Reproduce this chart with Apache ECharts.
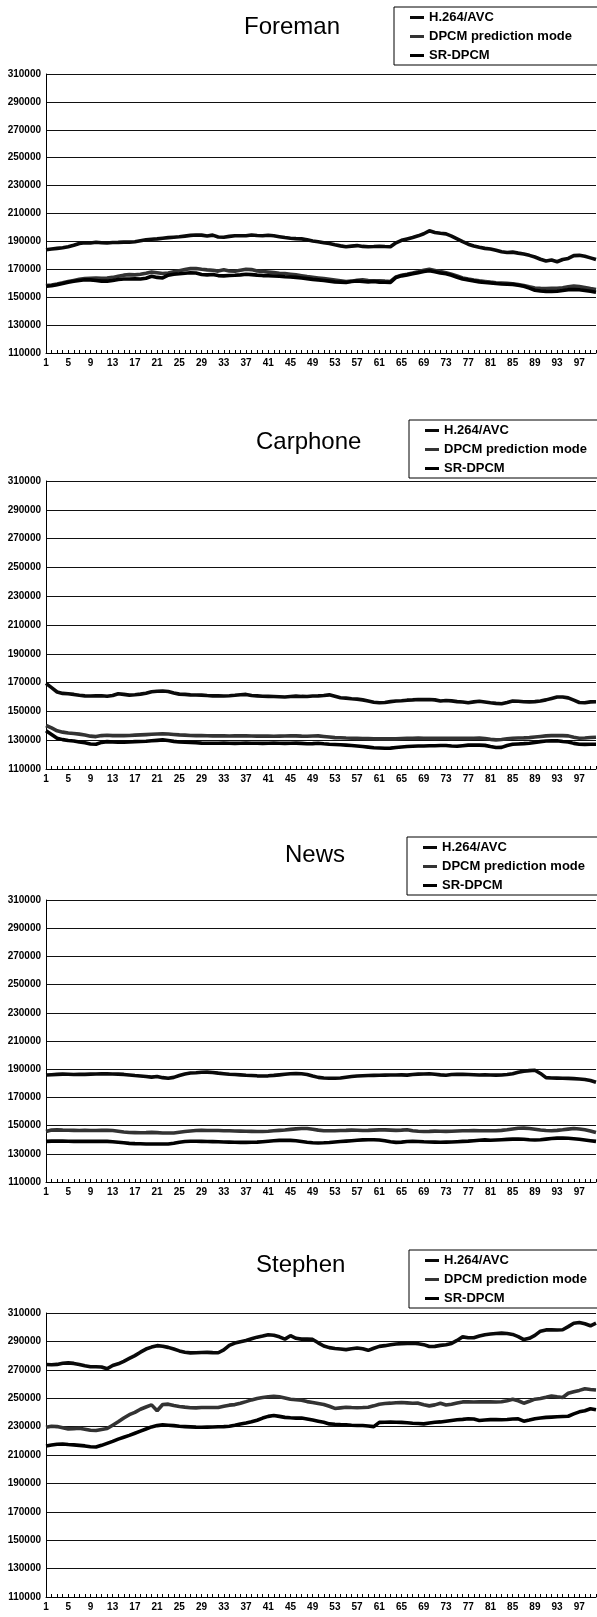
<!DOCTYPE html>
<html>
<head>
<meta charset="utf-8">
<script src="https://cdn.jsdelivr.net/npm/echarts@6/dist/echarts.min.js"></script>
<style>
html,body{margin:0;padding:0;background:#fff;}
#chart{width:597px;height:1617px;}
</style>
</head>
<body>
<div id="chart"></div>
<script>
const FRAMES = ['1','2','3','4','5','6','7','8','9','10','11','12','13','14','15','16','17','18','19','20','21','22','23','24','25','26','27','28','29','30','31','32','33','34','35','36','37','38','39','40','41','42','43','44','45','46','47','48','49','50','51','52','53','54','55','56','57','58','59','60','61','62','63','64','65','66','67','68','69','70','71','72','73','74','75','76','77','78','79','80','81','82','83','84','85','86','87','88','89','90','91','92','93','94','95','96','97','98','99','100'];
const SERIES_NAMES = ['H.264/AVC', 'DPCM prediction mode', 'SR-DPCM'];
const PANEL_TITLES = ['Foreman', 'Carphone', 'News', 'Stephen'];
const Y_MIN = 110000, Y_MAX = 310000, Y_LABEL_STEP = 20000;

const foremanH264 = [184000,184500,185000,185500,186200,187200,188500,189000,188800,189400,
189000,188800,189200,189300,189500,189500,189800,190500,191200,191500,
191800,192300,192700,193000,193300,193800,194300,194600,194500,193800,
194500,193200,193000,193600,194000,194100,194000,194600,194200,194000,
194400,194000,193400,192800,192300,192000,191800,191200,190300,189800,
189000,188500,187600,186800,186200,186600,187000,186400,186200,186300,
186500,186300,186200,189000,190800,191800,192800,194000,195500,197600,
196400,195800,195400,193800,191800,189800,188000,186700,185800,185000,
184500,183600,182600,182000,182300,181600,181000,180000,178800,177200,
176000,176600,175400,177000,177800,179800,180000,179300,178200,177000];
const foremanDPCM = [158300,158800,159500,160300,161200,162000,162800,163400,163600,163700,
163600,163700,164200,165000,165800,166200,166000,166500,167200,168000,
167500,167000,167400,168200,169000,169800,170500,170600,170000,169600,
169300,168700,169600,168800,168600,169300,170000,169800,168800,168400,
168000,167600,167200,167000,166500,166000,165400,164800,164300,163800,
163300,162800,162300,161800,161300,161500,162200,162500,162000,161800,
161800,161500,161300,164500,165800,166500,167300,168200,169300,170000,
169200,168400,167600,166400,165200,163800,163000,162300,161700,161300,
160800,160400,160200,159900,159600,159000,158300,157400,156600,156300,
156200,156300,156400,156800,157500,158000,157600,157000,156200,155500];
const foremanSR = [157800,158200,159000,159800,160700,161400,162000,162500,162400,162000,
161500,161500,162000,162700,163000,163000,163200,163000,163600,165000,
164200,163800,165800,166500,166800,167200,167500,167300,166300,166000,
166300,165500,165300,165600,165700,166000,166500,166200,165800,165500,
165400,165200,165000,164700,164500,164200,163800,163300,162800,162400,
162000,161500,161000,160800,160600,161300,161600,161200,161000,161200,
160800,160700,160600,164200,165300,166000,166800,167600,168400,169000,
168300,167400,166800,165700,164300,163000,162400,161700,161000,160500,
160200,159800,159500,159300,159200,158600,157800,156500,155000,154400,
154200,154100,154300,154800,155400,155500,155300,154800,154200,153500];

const carphoneH264 = [169500,166500,163500,162500,162300,161800,161200,160800,160700,160800,
160900,160500,161000,162300,161800,161300,161600,162000,162600,163600,
164000,164200,163800,162800,162000,161800,161500,161400,161300,161000,
160800,160900,160700,160900,161200,161600,161800,161000,160800,160500,
160400,160300,160200,160000,160300,160600,160400,160300,160700,160800,
161000,161500,160500,159500,159200,158800,158500,158000,157200,156400,
156000,156200,156800,157200,157400,157800,158000,158300,158200,158300,
158000,157200,157600,157300,156800,156500,156000,156600,157000,156500,
156000,155600,155300,156200,157200,157000,156700,156600,156800,157200,
158000,159000,160000,160000,159400,157800,156200,156000,156600,156700];
const carphoneDPCM = [140200,138500,136500,135600,135000,134600,134200,133600,132800,132500,
133200,133400,133200,133200,133200,133300,133500,133700,133900,134100,
134300,134400,134300,134000,133700,133500,133300,133200,133200,133100,
133000,133100,133000,132900,133000,133100,133000,132900,132800,132900,
132800,132700,132800,132900,133000,133000,132800,132700,132900,133000,
132600,132200,131800,131700,131500,131400,131300,131200,131100,131000,
130900,131000,130900,130900,131200,131400,131400,131500,131400,131400,
131300,131400,131400,131300,131400,131400,131300,131400,131500,131200,
130600,130200,130500,131000,131400,131500,131600,131800,132200,132600,
133000,133200,133300,133200,133000,132000,131400,131500,131900,132100];
const carphoneSR = [136500,134000,131400,130400,129800,129500,128800,128200,127400,127200,
128500,129000,128700,128600,128600,128800,129000,129100,129300,129600,
129900,130200,129800,129200,128800,128600,128400,128200,128000,127900,
127900,127900,128000,127900,127800,127900,128000,127900,127900,127800,
127900,128000,127900,127800,127900,128000,127800,127500,127600,127900,
127500,127200,127000,126800,126600,126300,126000,125600,125200,124800,
124600,124400,124500,124900,125300,125600,125800,126000,126000,126100,
126100,126300,126300,126000,125800,126200,126600,126700,126600,126400,
125600,124900,125000,126300,127200,127400,127600,127900,128400,129000,
129400,129500,129600,129100,128800,127800,127200,127100,127200,127200];

const newsH264 = [185900,186100,186300,186500,186400,186200,186400,186300,186500,186600,
186800,186700,186600,186500,186300,185900,185500,185200,184800,184400,
184800,184000,183600,184200,185500,186600,187300,187500,187800,187900,
187700,187200,186800,186400,186200,186000,185700,185500,185300,185200,
185300,185600,186000,186400,186800,187000,186800,186300,185200,184200,
183800,183600,183600,183800,184300,184800,185200,185400,185500,185600,
185700,185800,185900,185900,186000,185800,186200,186500,186600,186800,
186400,186000,185700,186200,186400,186300,186200,186100,185900,186000,
185900,185800,185900,186300,186800,187800,188600,189000,189300,187000,
184000,183800,183700,183600,183500,183300,183000,182700,182000,180800];
const newsDPCM = [145800,146800,147000,146800,146700,146600,146500,146600,146500,146500,
146600,146700,146500,146000,145500,145100,145000,144900,145000,145200,
145000,144800,144700,144800,145300,145800,146200,146500,146600,146500,
146500,146500,146400,146300,146200,146100,146000,145900,145800,145800,
146000,146300,146600,146900,147300,147700,147900,147900,147400,146800,
146400,146300,146400,146500,146600,146800,146700,146500,146600,146800,
147000,147000,146800,146600,146800,147100,146400,146000,145800,145900,
146100,146000,145900,146000,146200,146300,146400,146500,146400,146300,
146300,146400,146600,147000,147600,148100,148200,147900,147400,146900,
146500,146300,146600,147000,147500,147900,147600,147000,146200,145100];
const newsSR = [138800,139000,139100,139000,138900,138800,138800,138900,138800,138800,
138900,138800,138600,138200,137800,137400,137200,137100,137000,137000,
136900,136900,137000,137500,138200,138700,138900,138900,138800,138700,
138600,138500,138400,138300,138200,138100,138100,138200,138300,138600,
138900,139200,139500,139600,139500,139200,138700,138200,137800,137700,
137800,138000,138400,138700,139000,139300,139600,139900,140000,140000,
139800,139200,138500,138100,138300,138700,138800,138700,138500,138400,
138300,138200,138300,138400,138600,138800,139000,139300,139600,139900,
139600,139800,140000,140200,140400,140500,140300,140000,139800,140000,
140400,140800,141100,141200,141000,140700,140300,139800,139300,138800];

const stephenH264 = [273700,273600,273800,274600,274900,274500,273800,272800,272100,272200,
272000,270700,273000,274200,276000,278000,280000,282400,284600,286000,
287000,286600,285800,284600,283300,282400,281900,282000,282200,282300,
282100,282000,284000,287200,288800,289800,290600,291800,293000,293800,
294700,294300,293200,291600,294000,292200,291600,291600,291400,289000,
286800,285600,285000,284600,284200,284800,285300,284800,283700,285200,
286500,287000,287700,288200,288400,288600,288800,288300,287700,286400,
286500,287200,287700,288600,290700,293200,292600,292600,293800,294700,
295200,295600,295800,295600,294900,293400,291300,292200,294200,297200,
298100,298200,298000,298200,300400,302800,303300,302400,301000,302800];
const stephenDPCM = [229500,230200,230000,229200,228400,228600,228800,228200,227400,227300,
228000,228600,231000,233400,236000,238400,240000,242200,243800,245300,
241200,245600,245800,244800,244200,243700,243300,243200,243400,243500,
243500,243400,244300,245100,245500,246500,247600,248800,249800,250500,
251000,251300,251000,250200,249300,248900,248600,247600,247000,246300,
245600,244300,242800,243200,243600,243400,243300,243400,243600,244600,
245800,246300,246500,246800,247000,246700,246400,246500,245400,244600,
245300,246400,245200,245800,246600,247400,247500,247300,247400,247500,
247400,247300,247500,248200,249300,248200,246500,247800,249300,249800,
250600,251600,251000,250500,253500,254600,255500,256700,256100,255800];
const stephenSR = [216400,217000,217600,217800,217400,217100,216800,216400,215800,215600,
216800,218200,219600,221200,222500,223800,225300,226800,228300,229800,
230700,231200,231000,230700,230200,230000,229800,229600,229500,229600,
229700,229900,230000,230300,231000,231900,232600,233400,234500,236000,
237200,237800,237200,236500,236200,236000,236000,235400,234600,233800,
233000,231900,231600,231400,231300,231000,230800,230800,230400,230000,
233000,233100,233200,233100,233000,232700,232400,232200,231900,232500,
233100,233300,233800,234300,234800,235100,235500,235300,234300,234600,
234900,235000,234800,235000,235400,235500,233800,234600,235500,236000,
236500,236700,236900,237100,237300,239000,240400,241200,242600,241900];

const PANEL_DATA = [
  [foremanH264, foremanDPCM, foremanSR],
  [carphoneH264, carphoneDPCM, carphoneSR],
  [newsH264, newsDPCM, newsSR],
  [stephenH264, stephenDPCM, stephenSR]
];

// layout (pixels)
const GRID_BOXES = [
  {top: 74, bottom: 353},
  {top: 481, bottom: 769},
  {top: 900, bottom: 1182},
  {top: 1313, bottom: 1597}
];
const TITLE_POS = [{left: 239, top: 10}, {left: 251, top: 425}, {left: 280, top: 838}, {left: 251, top: 1248}];
const LEGEND_POS = [{left: 394, top: 7}, {left: 409, top: 420}, {left: 407, top: 837}, {left: 409, top: 1250}];
const LINE_COLORS = ['#0a0a0a', '#333333', '#000000'];
const FONT = '"Liberation Sans", Arial, sans-serif';

const chart = echarts.init(document.getElementById('chart'), null, {renderer: 'canvas'});

const grids = [], xAxes = [], yAxes = [], series = [], titles = [], legends = [];
GRID_BOXES.forEach((g, i) => {
  grids.push({left: 46, width: 550, top: g.top, height: g.bottom - g.top, containLabel: false});
  xAxes.push({
    type: 'category', gridIndex: i, data: FRAMES, boundaryGap: false,
    axisLine: {show: true, lineStyle: {color: '#000', width: 1}},
    axisTick: {show: true, inside: true, interval: 0, length: 3, lineStyle: {color: '#000', width: 1}},
    axisLabel: {interval: 3, margin: 5, fontSize: 10, fontWeight: 'bold', color: '#000', fontFamily: FONT},
    splitLine: {show: false}
  });
  yAxes.push({
    type: 'value', gridIndex: i, min: Y_MIN, max: Y_MAX, interval: 10000,
    axisLine: {show: true, lineStyle: {color: '#000', width: 1}},
    axisTick: {show: false},
    axisLabel: {
      margin: 5, fontSize: 10, fontWeight: 'bold', color: '#000', fontFamily: FONT,
      formatter: v => ((v - Y_MIN) % Y_LABEL_STEP === 0 ? String(v) : '')
    },
    splitLine: {show: true, lineStyle: {color: ['#111', 'rgba(0,0,0,0)'], width: 1}}
  });
  PANEL_DATA[i].forEach((arr, k) => {
    series.push({
      name: SERIES_NAMES[k], type: 'line', xAxisIndex: i, yAxisIndex: i,
      data: arr, symbol: 'none', smooth: false,
      lineStyle: {color: LINE_COLORS[k], width: 3.6},
      itemStyle: {color: LINE_COLORS[k]},
      z: 3 + k
    });
  });
  titles.push({
    text: PANEL_TITLES[i], left: TITLE_POS[i].left, top: TITLE_POS[i].top,
    textStyle: {fontSize: 24, fontWeight: 'normal', color: '#000', fontFamily: FONT}
  });
  legends.push({
    data: SERIES_NAMES, orient: 'vertical', left: LEGEND_POS[i].left, top: LEGEND_POS[i].top,
    icon: 'rect', itemWidth: 14, itemHeight: 3, itemGap: 6,
    padding: [4, 60, 3, 16],
    borderColor: '#000', borderWidth: 1, backgroundColor: '#fff',
    textStyle: {fontSize: 13, fontWeight: 'bold', color: '#000', fontFamily: FONT},
    selectedMode: false, z: 10
  });
});

chart.setOption({
  animation: false,
  backgroundColor: '#fff',
  title: titles,
  legend: legends,
  grid: grids,
  xAxis: xAxes,
  yAxis: yAxes,
  series: series
});
</script>
</body>
</html>
